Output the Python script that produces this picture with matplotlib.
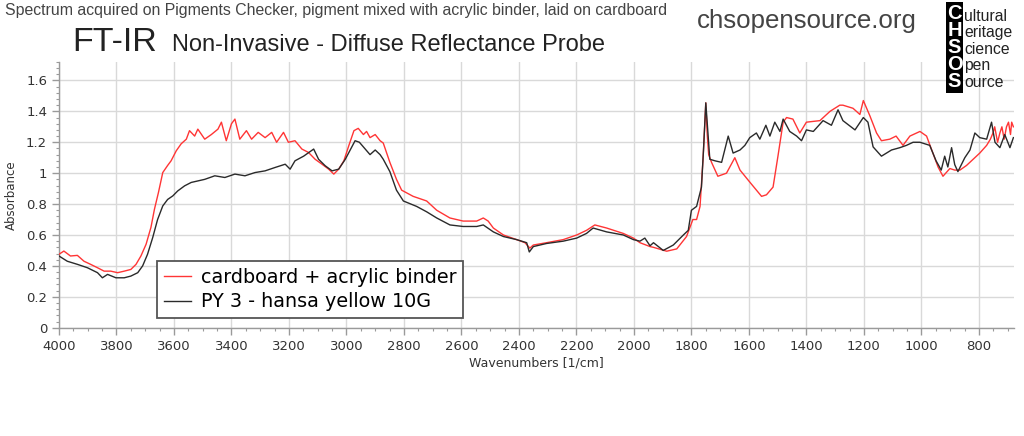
import matplotlib
matplotlib.use("Agg")
import matplotlib.pyplot as plt
from matplotlib.ticker import MultipleLocator, FuncFormatter

# ---------------- data ----------------
series_labels = ["cardboard + acrylic binder", "PY 3 - hansa yellow 10G"]

wn_red = [4000, 3983, 3960, 3936, 3913, 3890, 3866, 3843, 3820, 3796, 3773, 3750, 3732, 3715,
          3697, 3680, 3668, 3654, 3639, 3622, 3610, 3592, 3575, 3557, 3546, 3528, 3517, 3493,
          3470, 3447, 3435, 3418, 3400, 3388, 3371, 3348, 3330, 3307, 3283, 3260, 3243, 3219,
          3202, 3179, 3155, 3132, 3109, 3085, 3062, 3044, 3027, 3009, 2992, 2974, 2959, 2941,
          2930, 2918, 2900, 2883, 2872, 2849, 2826, 2808, 2768, 2721, 2686, 2640, 2594, 2547,
          2524, 2507, 2489, 2454, 2408, 2379, 2362, 2350, 2304, 2246, 2199, 2165, 2136, 2095,
          2037, 2002, 1979, 1944, 1932, 1886, 1851, 1817, 1795, 1782, 1770, 1759, 1750, 1745,
          1740, 1730, 1708, 1678, 1649, 1631, 1596, 1556, 1539, 1516, 1499, 1481, 1469, 1447,
          1423, 1400, 1353, 1318, 1284, 1273, 1238, 1214, 1202, 1179, 1156, 1139, 1110, 1088,
          1064, 1040, 1005, 982, 960, 942, 925, 901, 884, 866, 843, 820, 797, 773, 760, 751,
          745, 735, 727, 720, 712, 704, 697, 690, 686, 680]
abs_red = [0.475, 0.496, 0.464, 0.468, 0.43, 0.41, 0.388, 0.366, 0.366, 0.356, 0.366, 0.377, 0.41, 0.464,
           0.54, 0.65, 0.766, 0.875, 1.004, 1.05, 1.08, 1.145, 1.19, 1.22, 1.275, 1.24, 1.285, 1.22,
           1.25, 1.285, 1.33, 1.21, 1.32, 1.35, 1.22, 1.275, 1.22, 1.264, 1.23, 1.264, 1.2, 1.264,
           1.2, 1.21, 1.156, 1.134, 1.09, 1.058, 1.026, 0.994, 1.026, 1.08, 1.177, 1.275, 1.29, 1.25,
           1.27, 1.23, 1.25, 1.21, 1.195, 1.07, 0.96, 0.89, 0.85, 0.82, 0.76, 0.71, 0.69, 0.69,
           0.71, 0.69, 0.645, 0.60, 0.57, 0.55, 0.515, 0.535, 0.55, 0.57, 0.60, 0.63, 0.665, 0.645,
           0.61, 0.58, 0.55, 0.525, 0.52, 0.495, 0.51, 0.59, 0.70, 0.70, 0.785, 1.11, 1.455, 1.25,
           1.12, 1.07, 0.98, 1.00, 1.10, 1.02, 0.94, 0.85, 0.86, 0.91, 1.11, 1.33, 1.36, 1.35,
           1.26, 1.33, 1.34, 1.40, 1.44, 1.44, 1.42, 1.38, 1.47, 1.37, 1.26, 1.21, 1.22, 1.24,
           1.18, 1.24, 1.27, 1.24, 1.13, 1.04, 0.98, 1.03, 1.02, 1.02, 1.05, 1.09, 1.13, 1.18, 1.22, 1.26,
           1.30, 1.20, 1.26, 1.30, 1.22, 1.30, 1.33, 1.25, 1.33, 1.30]

wn_blk = [4000, 3971, 3936, 3901, 3866, 3849, 3831, 3802, 3773, 3750, 3726, 3709, 3692, 3674,
          3657, 3639, 3622, 3604, 3587, 3563, 3540, 3517, 3493, 3458, 3423, 3388, 3353, 3318,
          3283, 3248, 3213, 3196, 3179, 3149, 3114, 3097, 3074, 3050, 3027, 3004, 2970, 2955,
          2941, 2918, 2900, 2883, 2872, 2849, 2826, 2802, 2756, 2721, 2686, 2640, 2594, 2547,
          2524, 2489, 2454, 2408, 2373, 2364, 2350, 2304, 2246, 2199, 2165, 2142, 2095, 2037,
          2002, 1979, 1962, 1944, 1932, 1898, 1863, 1828, 1811, 1800, 1782, 1765, 1758, 1750,
          1744, 1736, 1718, 1695, 1672, 1655, 1631, 1614, 1597, 1574, 1562, 1541, 1527, 1510,
          1492, 1481, 1458, 1434, 1417, 1400, 1376, 1342, 1313, 1290, 1273, 1231, 1202, 1186,
          1168, 1139, 1104, 1075, 1052, 1029, 1005, 971, 949, 931, 919, 908, 895, 884, 873,
          849, 831, 814, 797, 773, 756, 744, 727, 710, 692, 680]
abs_blk = [0.464, 0.43, 0.41, 0.388, 0.356, 0.323, 0.345, 0.323, 0.323, 0.334, 0.356, 0.40, 0.475, 0.583,
           0.70, 0.788, 0.83, 0.853, 0.885, 0.918, 0.94, 0.95, 0.96, 0.983, 0.972, 0.994, 0.983, 1.004,
           1.015, 1.037, 1.058, 1.026, 1.08, 1.11, 1.156, 1.09, 1.048, 1.015, 1.026, 1.09, 1.21, 1.20,
           1.17, 1.12, 1.15, 1.12, 1.09, 1.01, 0.89, 0.82, 0.785, 0.75, 0.71, 0.665, 0.655, 0.655,
           0.665, 0.62, 0.59, 0.57, 0.55, 0.49, 0.525, 0.545, 0.56, 0.58, 0.61, 0.645, 0.62, 0.60,
           0.57, 0.56, 0.58, 0.53, 0.55, 0.50, 0.535, 0.60, 0.63, 0.76, 0.785, 0.91, 1.15, 1.455,
           1.30, 1.09, 1.08, 1.07, 1.24, 1.13, 1.15, 1.18, 1.23, 1.26, 1.22, 1.31, 1.24, 1.33,
           1.27, 1.35, 1.27, 1.24, 1.21, 1.28, 1.27, 1.34, 1.31, 1.41, 1.34, 1.28, 1.36, 1.33,
           1.17, 1.11, 1.15, 1.165, 1.18, 1.20, 1.20, 1.18, 1.08, 1.02, 1.11, 1.04, 1.165, 1.055, 1.01,
           1.10, 1.15, 1.26, 1.23, 1.22, 1.33, 1.20, 1.165, 1.25, 1.165, 1.23]

x_ticks = [4000, 3800, 3600, 3400, 3200, 3000, 2800, 2600, 2400, 2200, 2000, 1800, 1600, 1400, 1200, 1000, 800]
y_ticks = [0, 0.2, 0.4, 0.6, 0.8, 1.0, 1.2, 1.4, 1.6]

logo_letters = ["C", "H", "S", "O", "S"]
logo_rests = ["ultural", "eritage", "cience", "pen", "ource"]

# ---------------- figure ----------------
fig = plt.figure(figsize=(10.24, 4.36), dpi=100)
ax = fig.add_axes([0.0576, 0.2484, 0.9326, 0.6096])

ax.plot(wn_red, abs_red, color="#ff3535", lw=1.0, label=series_labels[0], zorder=3)
ax.plot(wn_blk, abs_blk, color="#2a2a2a", lw=1.0, label=series_labels[1], zorder=4)

ax.set_xlim(4000, 678)
ax.set_ylim(0, 1.72)
ax.set_xticks(x_ticks)
ax.set_yticks(y_ticks)
ax.xaxis.set_minor_locator(MultipleLocator(50))
ax.yaxis.set_minor_locator(MultipleLocator(0.04))
ax.yaxis.set_major_formatter(FuncFormatter(lambda v, p: f"{v:g}"))
ax.grid(True, which="major", color="#d9d9d9", lw=1.0, zorder=0)
ax.set_axisbelow(True)

for s in ["top", "right"]:
    ax.spines[s].set_visible(False)
for s in ["left", "bottom"]:
    ax.spines[s].set_color("#9a9a9a")
    ax.spines[s].set_linewidth(1.0)

ax.tick_params(axis="both", which="major", labelsize=9.5, labelcolor="#333333",
               color="#9a9a9a", length=5, width=1)
ax.tick_params(axis="both", which="minor", color="#9a9a9a", length=2.5, width=0.8)
for lab in ax.get_xticklabels() + ax.get_yticklabels():
    lab.set_family("DejaVu Sans")

ax.set_xlabel("Wavenumbers [1/cm]", fontsize=9, color="#333333", labelpad=3)
ax.set_ylabel("Absorbance", fontsize=8.5, color="#333333", labelpad=6)

leg = ax.legend(loc="lower left", bbox_to_anchor=(0.1026, 0.0365), borderaxespad=0,
                fontsize=13.8, frameon=True, fancybox=False, shadow=False,
                handlelength=1.4, handletextpad=0.55, borderpad=0.35, labelspacing=0.28)
leg.get_frame().set_edgecolor("#555555")
leg.get_frame().set_linewidth(1.3)
leg.get_frame().set_alpha(1)
leg.set_zorder(10)

# ---------------- header texts ----------------
fig.text(0.005, 0.992, "Spectrum acquired on Pigments Checker, pigment mixed with acrylic binder, laid on cardboard",
         fontsize=11.4, color="#444444", family="Liberation Sans", ha="left", va="top")
fig.text(0.071, 0.883, "FT-IR", fontsize=24.5, color="#222222",
         family="Liberation Sans", ha="left", va="baseline")
fig.text(0.168, 0.883, "Non-Invasive - Diffuse Reflectance Probe", fontsize=17, color="#222222",
         family="Liberation Sans", ha="left", va="baseline")
fig.text(0.681, 0.935, "chsopensource.org", fontsize=18.6, color="#444444",
         family="Liberation Sans", ha="left", va="baseline")

# logo
logo_ax = fig.add_axes([946 / 1024, 1 - 93 / 436, 17 / 1024, 91 / 436])
logo_ax.set_facecolor("black")
logo_ax.set_xticks([])
logo_ax.set_yticks([])
for s in logo_ax.spines.values():
    s.set_visible(False)
yc = 1 - 47.5 / 436
fig.text(954.5 / 1024, yc, "\n".join(logo_letters), fontsize=14.5, fontweight="bold", color="white",
         family="Liberation Sans", ha="center", va="center", linespacing=0.86,
         multialignment="center")
fig.text(964 / 1024, yc - 0.004, "\n".join(logo_rests), fontsize=11.3, color="#222222",
         family="Liberation Sans", ha="left", va="center", linespacing=1.12)

fig.savefig("out.png", dpi=100)
